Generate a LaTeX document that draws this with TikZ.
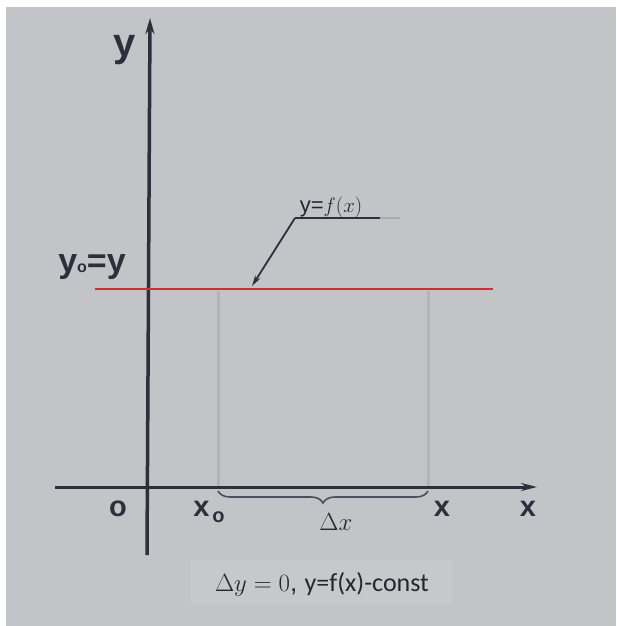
\documentclass[tikz,border=0pt]{standalone}
\usepackage{fontspec}
\setmainfont{Liberation Sans}
\newfontfamily\calib{Carlito}
\usetikzlibrary{arrows.meta,decorations.pathreplacing}
\definecolor{bg}{RGB}{195,196,199}
\definecolor{capbg}{RGB}{199,200,202}
\definecolor{axiscol}{RGB}{45,48,60}
\definecolor{redl}{RGB}{205,45,60}
\definecolor{guide}{RGB}{178,180,183}
\begin{document}
\begin{tikzpicture}[x=1pt,y=-1pt,
  axisline/.style={draw=axiscol,line width=3.5pt},
  lbl/.style={text=axiscol,inner sep=0pt,font=\bfseries\fontsize{29}{29}\selectfont},
  mathlbl/.style={text=axiscol!80!black,inner sep=0pt,font=\fontsize{26}{26}\selectfont},
  guideline/.style={draw=guide,line width=3pt},
  leader/.style={draw=axiscol,line width=1.8pt}]
\useasboundingbox (0,0) rectangle (616,626);
\fill[white] (0,0) rectangle (616,626);
\fill[bg] (6,7) rectangle (616,626);
\fill[capbg] (190,560) rectangle (452,604);
% axes
\coordinate (ybot) at (147,555);
\coordinate (ytop) at (150,18);
\coordinate (xleft) at (55,487);
\coordinate (xright) at (537,487);
\draw[axisline,-{Stealth[length=16pt,width=9pt]}] (ybot) -- (ytop);
\draw[axisline,line width=3pt,-{Stealth[length=16pt,width=8pt]}] (xleft) -- (xright);
% guide lines
\coordinate (g1t) at (218,291);
\coordinate (g1b) at (218,486);
\coordinate (g2t) at (428,291);
\coordinate (g2b) at (428,486);
\draw[guideline] (g1t) -- (g1b);
\draw[guideline] (g2t) -- (g2b);
% red line
\coordinate (rl) at (95,289);
\coordinate (rr) at (493,289);
\draw[draw=redl,line width=2.5pt] (rl) -- (rr);
% brace
\coordinate (b1) at (218,491);
\coordinate (b2) at (428,491);
\draw[axiscol!85,line width=1.6pt,decorate,decoration={brace,mirror,amplitude=12pt}] (b1) -- (b2);
% leader
\coordinate (lk) at (295,218);
\coordinate (le) at (380,218);
\coordinate (lf) at (400,218);
\coordinate (la) at (252,286);
\draw[leader] (le) -- (lk);
\draw[draw=axiscol!40,line width=1.2pt] (le) -- (lf);
\draw[leader,-{Stealth[length=11pt,width=6pt]}] (lk) -- (la);
% labels
\node[lbl,font=\bfseries\fontsize{40}{40}\selectfont] (ylab) at (125,50) {y};
\node[lbl,font=\bfseries\fontsize{34}{34}\selectfont,anchor=base] (y0lab) at (92,272) {y{\fontsize{16}{16}\selectfont o}=y};
\node[lbl,anchor=base] (olab) at (118,516) {o};
\node[lbl,anchor=base] (x0lab) at (209,516) {x\kern3pt\raisebox{-6pt}{\fontsize{20}{20}\selectfont o}};
\node[lbl,anchor=base] (x1lab) at (442,516) {x};
\node[lbl,anchor=base] (x2lab) at (528,516) {x};
\node[mathlbl,anchor=base] (dx) at (336,530) {$\Delta x$};
\node[mathlbl,font=\fontsize{22}{22}\selectfont,anchor=base] (fx) at (331,212) {y=$f(x)$};
\node[mathlbl,anchor=base] (cap) at (322,591) {$\Delta y = 0$, {\calib y=f(x)-const}};
\end{tikzpicture}
\end{document}
